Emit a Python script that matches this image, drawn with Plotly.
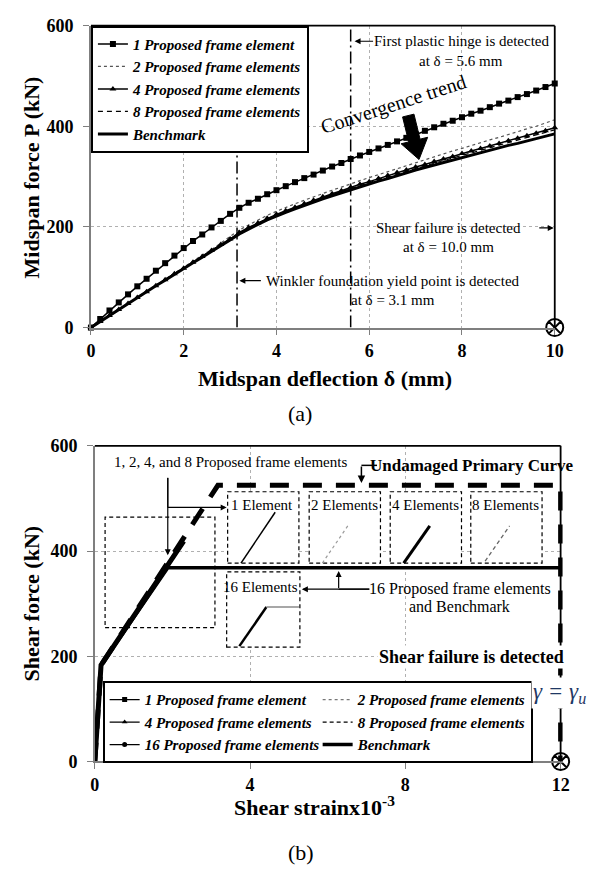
import math
import plotly.graph_objects as go

W, H = 595, 876
FONT = "Liberation Serif, Times New Roman, serif"

# ---------------- data: panel (a) ----------------
defl = [0.0, 0.2, 0.4, 0.6, 0.8, 1.0, 1.2, 1.4, 1.6, 1.8, 2.0, 2.2, 2.4, 2.6, 2.8,
        3.0, 3.2, 3.4, 3.6, 3.8, 4.0, 4.2, 4.4, 4.6, 4.8, 5.0, 5.2, 5.4, 5.6, 5.8,
        6.0, 6.2, 6.4, 6.6, 6.8, 7.0, 7.2, 7.4, 7.6, 7.8, 8.0, 8.2, 8.4, 8.6, 8.8,
        9.0, 9.2, 9.4, 9.6, 9.8, 10.0]
p_one = [0, 17, 34, 50, 66, 82, 97, 113, 128, 143, 158, 172, 185, 199, 212, 226, 238, 248, 256, 265,
         273, 281, 289, 297, 304, 312, 320, 327, 335, 342, 349, 356, 363, 370, 377, 384, 391, 398, 405,
         411, 418, 425, 431, 438, 445, 451, 458, 464, 471, 478, 485]
p_two = [0, 12, 24, 37, 49, 61, 73, 85, 97, 109, 120, 132, 144, 155, 168, 180, 194, 204, 214, 223,
         231, 239, 246, 253, 260, 267, 273, 279, 286, 292, 298, 304, 310, 316, 322, 328, 334, 340, 345,
         351, 356, 362, 367, 373, 378, 384, 389, 395, 400, 406, 413]
p_four = [0, 12, 24, 36, 48, 60, 71, 83, 95, 107, 118, 130, 141, 153, 165, 176, 189, 199, 208, 217,
          225, 232, 239, 246, 253, 260, 266, 272, 279, 285, 290, 296, 302, 308, 313, 319, 324, 330, 335,
          340, 346, 351, 356, 361, 366, 371, 376, 381, 386, 391, 397]
p_eight = [0, 12, 24, 36, 48, 60, 71, 83, 95, 106, 118, 129, 141, 152, 164, 175, 188, 198, 207, 216,
           224, 231, 238, 245, 252, 258, 264, 270, 277, 283, 288, 294, 299, 305, 310, 316, 321, 327, 332,
           337, 342, 347, 352, 357, 362, 367, 372, 377, 382, 387, 393]
p_bench = [0, 12, 24, 36, 48, 60, 71, 83, 94, 106, 117, 129, 140, 151, 163, 174, 186, 196, 205, 214,
           222, 229, 236, 243, 250, 256, 262, 268, 274, 280, 285, 291, 296, 302, 307, 313, 318, 323, 328,
           333, 338, 343, 348, 352, 357, 362, 366, 371, 376, 380, 385]
event_defl = [3.15, 5.6]
fail_defl = [10]
fail_p = [0]

# ---------------- data: panel (b) ----------------
prim_strain = [0, 0.16, 3.17, 12, 12]
prim_shear = [0, 183, 525, 525, 0]
elem_strain = [0, 0.16, 2.29]
elem_shear = [0, 183, 419]
bench_strain = [0, 0.16, 1.88, 12]
bench_shear = [0, 183, 368, 368]
fail_strain = [12]
fail_shear = [0]

top_names = ["1 Proposed frame element", "2 Proposed frame elements", "4 Proposed frame elements",
             "8 Proposed frame elements", "Benchmark"]
bot_names = ["1 Proposed frame element", "2 Proposed frame elements", "4 Proposed frame elements",
             "8 Proposed frame elements", "16 Proposed frame elements", "Benchmark"]

# ---------------- geometry (pixels) ----------------
TL, TR, TT, TB = 88, 563, 16, 325
BL, BR, BT, BB = 92, 571, 446, 769
B_FRAME_R = 569


def px(x):
    return x / W


def py(y):
    return 1 - y / H


fig = go.Figure()

# panel (a) traces
styles_top = [
    dict(mode="lines+markers", line=dict(color="black", width=1.5),
         marker=dict(symbol="square", size=6, color="black")),
    dict(mode="lines", line=dict(color="#555555", width=1.2, dash="dot")),
    dict(mode="lines+markers", line=dict(color="black", width=1.5),
         marker=dict(symbol="triangle-up", size=6, color="black")),
    dict(mode="lines", line=dict(color="black", width=1.2, dash="5px,4px")),
    dict(mode="lines", line=dict(color="black", width=3)),
]
for name, ys, st in zip(top_names, [p_one, p_two, p_four, p_eight, p_bench], styles_top):
    fig.add_trace(go.Scatter(x=defl, y=ys, name="<b><i>%s</i></b>" % name, xaxis="x", yaxis="y",
                             legend="legend", cliponaxis=False, **st))
fig.add_trace(go.Scatter(x=fail_defl, y=fail_p, mode="markers", showlegend=False, cliponaxis=False,
                         marker=dict(symbol="circle-x-open", size=17, color="black", line=dict(width=2)),
                         xaxis="x", yaxis="y"))

# panel (b) traces
fig.add_trace(go.Scatter(x=prim_strain, y=prim_shear, mode="lines", showlegend=False,
                         line=dict(color="black", width=5, dash="19px,14px"), xaxis="x2", yaxis="y2"))
fig.add_trace(go.Scatter(x=elem_strain, y=elem_shear, mode="lines", showlegend=False,
                         line=dict(color="black", width=5), xaxis="x2", yaxis="y2"))
fig.add_trace(go.Scatter(x=bench_strain, y=bench_shear, mode="lines", showlegend=False,
                         line=dict(color="black", width=3.5), xaxis="x2", yaxis="y2"))
fig.add_trace(go.Scatter(x=fail_strain, y=fail_shear, mode="markers", showlegend=False, cliponaxis=False,
                         marker=dict(symbol="circle-x-open", size=17, color="black", line=dict(width=2)),
                         xaxis="x2", yaxis="y2"))
styles_bot = [
    dict(mode="lines+markers", line=dict(color="black", width=1.2),
         marker=dict(symbol="square", size=5, color="black")),
    dict(mode="lines", line=dict(color="#777777", width=1.2, dash="dot")),
    dict(mode="lines+markers", line=dict(color="black", width=1.2),
         marker=dict(symbol="triangle-up", size=5, color="black")),
    dict(mode="lines", line=dict(color="black", width=1.2, dash="4px,3px")),
    dict(mode="lines+markers", line=dict(color="black", width=1.2),
         marker=dict(symbol="circle", size=5, color="black")),
    dict(mode="lines", line=dict(color="black", width=3.5)),
]
for name, st in zip(bot_names, styles_bot):
    fig.add_trace(go.Scatter(x=[None], y=[None], name="<b><i>%s</i></b>" % name, xaxis="x2", yaxis="y2",
                             legend="legend2", **st))

axis_common = dict(showline=True, linecolor="#7f7f7f", linewidth=1.5, ticks="outside", ticklen=6,
                   tickcolor="#7f7f7f", showgrid=True, gridcolor="#b0b0b0", griddash="dot", gridwidth=1,
                   zeroline=False, tickfont=dict(family=FONT, size=18, color="black", weight="bold"))

fig.update_layout(
    width=W, height=H, margin=dict(l=0, r=0, t=0, b=0), paper_bgcolor="white", plot_bgcolor="white",
    xaxis=dict(domain=[px(TL), px(TR)], range=[0, 10], dtick=2, anchor="y", **axis_common),
    yaxis=dict(domain=[py(TB), py(TT)], range=[0, 600], dtick=200, anchor="x", ticklabelstandoff=6,
               **axis_common),
    xaxis2=dict(domain=[px(BL), px(BR)], range=[0, 12.05], tickvals=[0, 4, 8, 12], anchor="y2",
                **axis_common),
    yaxis2=dict(domain=[py(BB), py(BT)], range=[0, 600], dtick=200, anchor="x2", ticklabelstandoff=6,
                **axis_common),
    legend=dict(x=px(TL), y=py(TT), xanchor="left", yanchor="top", bgcolor="white", bordercolor="black",
                borderwidth=2, itemwidth=30, font=dict(family=FONT, size=15, color="black")),
    legend2=dict(x=px(100), y=py(687), xanchor="left", yanchor="top", bgcolor="white",
                 bordercolor="black", borderwidth=2, itemwidth=30, orientation="h", entrywidth=168,
                 font=dict(family=FONT, size=15, color="black")),
    showlegend=True,
)

shapes = []


def pline(x0, y0, x1, y1, color="black", width=1.5, dash=None, layer="above"):
    d = dict(type="line", xref="paper", yref="paper", x0=px(x0), y0=py(y0), x1=px(x1), y1=py(y1),
             line=dict(color=color, width=width), layer=layer)
    if dash:
        d["line"]["dash"] = dash
    shapes.append(d)


# frames (top/right black)
pline(TL, TT, TR, TT, width=1.8)
pline(TR, TT, TR, TB, width=1.8)
pline(BL, BT, B_FRAME_R, BT, width=1.8)
pline(B_FRAME_R, BT, B_FRAME_R, BB, width=1.8)

# event lines (panel a)
for xv in event_defl:
    shapes.append(dict(type="line", xref="x", yref="y", x0=xv, x1=xv, y0=0, y1=600,
                       line=dict(color="black", width=1.5, dash="12px,4px,2px,4px"), layer="below"))

# big convergence arrow (polygon)
tx, ty, hx, hy = 413, 108, 424, 153
L = math.hypot(hx - tx, hy - ty)
ux, uy = (hx - tx) / L, (hy - ty) / L
nx, ny = uy, -ux
sw, hw, hl = 6, 14, 20
bx, by = hx - ux * hl, hy - uy * hl
pts = [(tx + nx * sw, ty + ny * sw), (bx + nx * sw, by + ny * sw), (bx + nx * hw, by + ny * hw), (hx, hy),
       (bx - nx * hw, by - ny * hw), (bx - nx * sw, by - ny * sw), (tx - nx * sw, ty - ny * sw)]
path = "M " + " L ".join("%.5f,%.5f" % (px(a), py(b)) for a, b in pts) + " Z"
shapes.append(dict(type="path", xref="paper", yref="paper", path=path, fillcolor="black",
                   line=dict(color="black", width=1)))


def pbox(x0, y0, x1, y1, fill="white"):
    shapes.append(dict(type="rect", xref="paper", yref="paper", x0=px(x0), y0=py(y1), x1=px(x1), y1=py(y0),
                       line=dict(color="black", width=1.2, dash="4px,3px"), fillcolor=fill, layer="above"))


# inset boxes (panel b)
pbox(102.5, 519, 215, 632, fill="rgba(0,0,0,0)")
for lx in [228, 311.5, 394.5, 477]:
    pbox(lx, 493, lx + 73, 566)
pbox(227, 575, 302, 652)
pline(241.7, 566, 276.7, 514, color="black", width=1.5)
pline(325, 566, 351.7, 527, color="#9a9a9a", width=1.2, dash="dot")
pline(408.3, 566, 435, 528, color="black", width=3)
pline(491.7, 564, 516.7, 528, color="#666666", width=1.3, dash="4px,3px")
pline(240, 651, 267.7, 611, color="black", width=2.5)
pline(267.7, 611, 301, 611, color="#8a8a8a", width=1.5)
# connectors
pline(166.7, 509, 166.7, 479, width=1.2)
pline(381, 466, 365, 466, width=1.5)
pline(373, 592.7, 341.7, 592.7, width=1.2)

fig.update_layout(shapes=shapes)

ann = []


def text(x, y, s, size=15, bold=False, color="black", bg=None, angle=0, italic=False):
    if bold:
        s = "<b>%s</b>" % s
    if italic:
        s = "<i>%s</i>" % s
    d = dict(x=px(x), y=py(y), xref="paper", yref="paper", text=s, showarrow=False, textangle=angle,
             font=dict(family=FONT, size=size, color=color), xanchor="center", yanchor="middle")
    if bg:
        d["bgcolor"] = bg
    ann.append(d)


def arrow(tx_, ty_, hx_, hy_, width=1.2):
    ann.append(dict(x=px(hx_), y=py(hy_), xref="paper", yref="paper", ax=tx_ - hx_, ay=ty_ - hy_,
                    axref="pixel", ayref="pixel", text="", showarrow=True, arrowhead=2, arrowsize=1,
                    arrowwidth=width, arrowcolor="black", standoff=0))


# panel (a) annotations
text(467, 32, "First plastic hinge is detected", 15)
text(467, 52, "at δ = 5.6 mm", 15)
arrow(378, 32, 358, 32)
text(398, 97, "Convergence trend", 20, angle=-18)
text(454, 223, "Shear failure is detected", 15)
text(454, 243, "at δ = 10.0 mm", 15)
arrow(546, 223, 562, 223)
text(397, 277, "Winkler foundation yield point is detected", 15)
text(397, 297, "at δ = 3.1 mm", 15)
arrow(263, 277, 240, 277)
# axis titles
text(27, 171, "Midspan force P (kN)", 22, bold=True, angle=-90)
text(328, 377, "Midspan deflection δ (mm)", 22, bold=True)
text(302, 413, "(a)", 22)

# panel (b) annotations
text(231, 463, "1, 2, 4, and 8 Proposed frame elements", 15)
arrow(166.7, 479, 166.7, 558)
arrow(166.7, 509, 227, 509)
text(478, 466, "Undamaged Primary Curve", 17, bold=True)
arrow(365, 466, 365, 484, width=1.5)
text(263, 507, "1 Element", 15)
text(348, 507, "2 Elements", 15)
text(431, 507, "4 Elements", 15)
text(513, 507, "8 Elements", 15)
text(262, 590, "16 Elements", 15)
text(466, 593, "16 Proposed frame elements", 16)
text(465, 610, "and Benchmark", 16)
arrow(373, 592.7, 304, 592.7)
arrow(341.7, 592.7, 341.7, 574)
text(478, 662, "Shear failure is detected", 18, bold=True, bg="white")
text(568, 699, "γ = γ<sub>u</sub>", 23, italic=True, color="#1f3864", bg="white")
text(27, 607, "Shear force (kN)", 22, bold=True, angle=-90)
text(317, 815, "Shear strainx10<sup>-3</sup>", 22, bold=True)
text(303, 862, "(b)", 22)

fig.update_layout(annotations=ann)

fig.write_html("out.html", config={"displayModeBar": False},
               post_script="document.body.style.margin='0px';")
